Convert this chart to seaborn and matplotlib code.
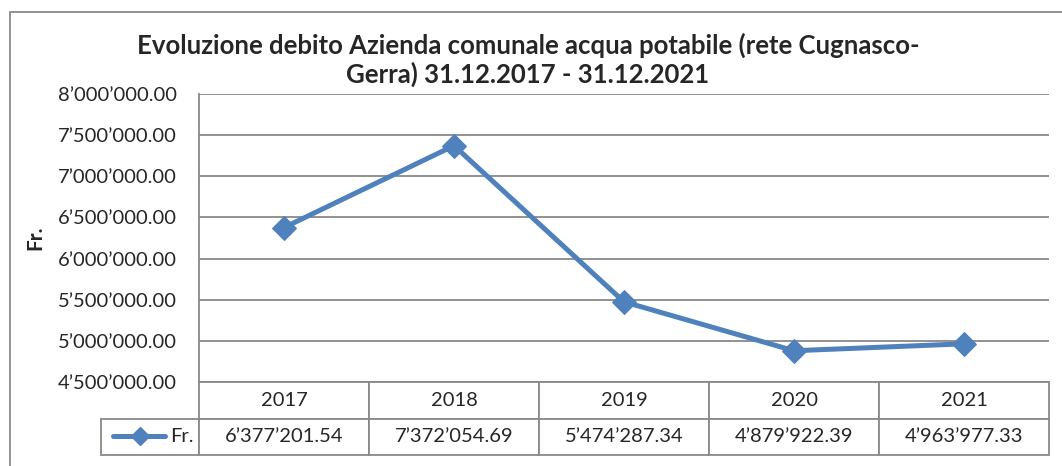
import matplotlib.pyplot as plt
import matplotlib.ticker as mticker
from matplotlib.lines import Line2D
from matplotlib.patches import Rectangle
import pandas as pd
import seaborn as sns

sns.set_style("white")
plt.rcParams['font.family'] = ['Lato', 'DejaVu Sans']

years = ['2017', '2018', '2019', '2020', '2021']
debt = [6377201.54, 7372054.69, 5474287.34, 4879922.39, 4963977.33]
series_name = 'Fr.'
title = 'Evoluzione debito Azienda comunale acqua potabile (rete Cugnasco-\nGerra) 31.12.2017 - 31.12.2021'

blue = '#4F81BD'
grey = '#898989'
W, H = 1062, 466


def swiss(v, pos=None):
    # 1'234'567.89 with typographic apostrophe
    return f'{v:,.2f}'.replace(',', '\u2019')


df = pd.DataFrame({'year': years, 'value': debt})

fig = plt.figure(figsize=(W / 100, H / 100), dpi=100)
ax = fig.add_axes([199 / W, 1 - 382 / H, 850 / W, 288 / H])

sns.lineplot(data=df, x='year', y='value', ax=ax, color=blue, linewidth=3.6,
             marker='D', markersize=12, markeredgecolor=blue)

ax.set_xlim(-0.5, len(years) - 0.5)
ax.set_ylim(4500000, 8000000)
ax.yaxis.set_major_locator(mticker.MultipleLocator(500000))
ax.yaxis.set_major_formatter(mticker.FuncFormatter(swiss))
ax.grid(axis='y', color=grey, linewidth=1.3)
ax.set_axisbelow(True)
ax.tick_params(axis='y', length=0, labelsize=14.5, pad=16)
ax.set_xticks([])
ax.set_xlabel('')
ax.set_ylabel('Fr.', fontsize=15, fontweight='bold')
ax.yaxis.set_label_coords(-154 / 850, 0.5)
for side in ['top', 'right', 'bottom']:
    ax.spines[side].set_visible(False)
ax.spines['left'].set_color(grey)
ax.spines['left'].set_linewidth(1.3)

fig.text(528 / W, 1 - 60 / H, title, ha='center', va='center', fontsize=18.5,
         fontweight='bold', linespacing=1.2)

# data table under the plot
tab_h = 73 / 288
tab = ax.table(cellText=[[swiss(v) for v in debt]], colLabels=years,
               cellLoc='center', bbox=[0, -tab_h, 1, tab_h])
tab.add_cell(1, -1, width=98 / 850, height=tab[1, 0].get_height(),
             text=series_name, loc='right')
tab.auto_set_font_size(False)
for cell in tab.get_celld().values():
    cell.set_edgecolor(grey)
    cell.set_linewidth(1.3)
    cell.get_text().set_fontsize(14.5)
tab[1, -1].PAD = 0.05

# legend key inside the row label cell
ly = -(436 - 382) / 288
ax.add_line(Line2D([(113 - 199) / 850, (165 - 199) / 850], [ly, ly], transform=ax.transAxes,
                   color=blue, linewidth=3.6, clip_on=False))
ax.add_line(Line2D([(140 - 199) / 850], [ly], transform=ax.transAxes, marker='D',
                   markersize=9, color=blue, clip_on=False))

# chart area frame
fig.add_artist(Rectangle((10 / W, -0.1), 1.2, 1.1 - 12 / H, transform=fig.transFigure,
                         fill=False, edgecolor=grey, linewidth=1.3))

fig.savefig('out.png', dpi=100)
